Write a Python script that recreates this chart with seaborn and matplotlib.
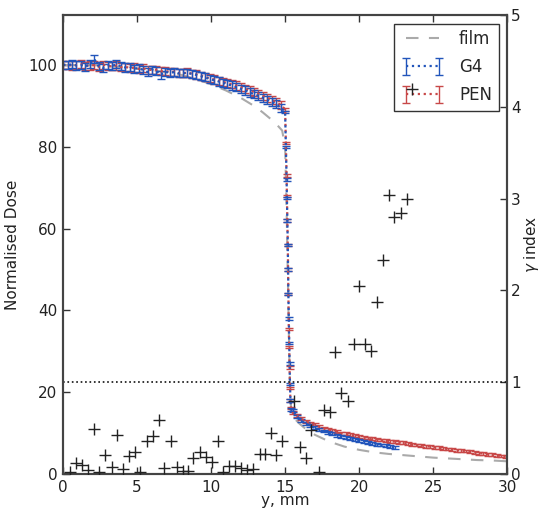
import numpy as np
import matplotlib
matplotlib.use('agg')
import matplotlib.pyplot as plt
import seaborn as sns

# film profile (grey dashed)
film_x = [0, 2, 4, 6, 8, 9, 10, 11, 12, 13, 13.5, 14, 14.5, 14.8, 15.0, 15.1, 15.2, 15.3, 15.4,
          15.5, 16, 16.5, 17, 18, 19, 20, 21, 22, 23, 24, 25, 26, 27, 28, 29, 30]
film_dose = [100, 100, 99.5, 98.8, 97.6, 96.6, 95.3, 93.8, 92.0, 89.8, 88.4, 86.9, 85.2, 84.0,
             80.0, 65.0, 45.0, 25.0, 16.0, 14.0, 12.2, 10.7, 9.6, 7.9, 6.7, 5.9, 5.3, 4.9, 4.6,
             4.3, 4.0, 3.8, 3.6, 3.4, 3.3, 3.1]

# simulated profiles, sampled every 0.3 mm on the plateau and tail
head_x = np.round(np.arange(0, 14.71, 0.3), 2)
drop_x = [15.0, 15.05, 15.1, 15.12, 15.15, 15.18, 15.2, 15.22, 15.25, 15.28, 15.3, 15.33, 15.36, 15.4]
pen_tail_x = np.round(np.arange(15.5, 29.91, 0.3), 2)
g4_tail_x = np.round(np.arange(15.5, 22.41, 0.3), 2)

g4_head = [100.1, 100.0, 100.2, 99.9, 100.0, 99.6, 100.3, 101.5, 99.7, 99.3,
           100.0, 99.8, 100.2, 99.7, 99.4, 99.6, 99.1, 99.3, 98.8, 98.3,
           98.9, 98.6, 97.6, 98.4, 98.1, 98.3, 98.0, 98.1, 98.0, 97.9,
           97.6, 97.3, 97.0, 96.6, 96.3, 96.0, 95.7, 95.3, 95.0, 94.6,
           94.2, 93.8, 93.3, 92.9, 92.5, 92.0, 91.5, 91.0, 90.4, 89.6]
pen_head = [100.0, 100.1, 99.9, 100.0, 100.2, 99.8, 99.9, 100.0, 99.6, 100.1,
            99.8, 99.7, 99.9, 99.5, 99.6, 99.3, 99.4, 99.1, 99.2, 98.9,
            98.8, 98.9, 98.5, 98.6, 98.3, 98.4, 98.1, 98.0, 98.2, 97.9,
            97.7, 97.4, 97.1, 96.8, 96.5, 96.2, 95.9, 95.6, 95.3, 95.0,
            94.6, 94.2, 93.8, 93.4, 93.0, 92.5, 92.0, 91.5, 90.9, 90.3]
g4_drop = [88.6, 80.0, 72.0, 67.5, 62.0, 56.0, 50.0, 44.0, 38.0, 32.0, 27.0, 22.0, 18.0, 15.8]
pen_drop = [89.2, 81.0, 73.0, 68.0, 62.0, 56.0, 50.0, 44.0, 35.4, 31.0, 26.0, 21.0, 18.0, 16.2]
g4_tail = [15.6, 14.0, 13.0, 12.3, 11.8, 11.3, 10.9, 10.5, 10.1, 9.8,
           9.5, 9.2, 8.9, 8.6, 8.4, 8.2, 8.0, 7.7, 7.5, 7.3,
           7.1, 6.9, 6.7, 6.5]
pen_tail = [15.0, 14.2, 13.5, 12.9, 12.4, 12.0, 11.6, 11.2, 10.9, 10.6,
            10.3, 10.0, 9.8, 9.6, 9.4, 9.2, 9.0, 8.8, 8.6, 8.5,
            8.3, 8.2, 8.0, 7.9, 7.7, 7.6, 7.4, 7.3, 7.1, 7.0,
            6.8, 6.7, 6.5, 6.4, 6.2, 6.1, 6.0, 5.8, 5.7, 5.6,
            5.4, 5.3, 5.1, 5.0, 4.8, 4.7, 4.5, 4.4, 4.3]
err_head, err_drop, err_tail = 1.0, 0.3, 0.35

# gamma index points
gamma_x = [0.47, 0.88, 1.28, 1.69, 2.09, 2.43, 2.84, 3.31, 3.67, 4.07, 4.44, 4.84, 5.2, 5.65,
           6.06, 6.46, 6.82, 7.3, 7.68, 8.09, 8.45, 8.8, 9.26, 9.66, 10.07, 10.43, 10.83,
           11.24, 11.64, 12.05, 12.45, 12.86, 13.27, 13.67, 14.03, 14.39, 14.8, 15.6, 16.0,
           16.4, 16.78, 17.3, 17.64, 18.04, 18.4, 18.78, 19.24, 19.66, 20.0, 20.4, 20.8,
           21.2, 21.64, 22.03, 22.39, 22.8, 23.24, 23.6]
gamma_val = [0.025, 0.12, 0.10, 0.04, 0.49, 0.02, 0.21, 0.08, 0.42, 0.05, 0.20, 0.24, 0.025, 0.36,
             0.41, 0.59, 0.065, 0.36, 0.08, 0.03, 0.03, 0.17, 0.24, 0.18, 0.13, 0.36, 0.025,
             0.09, 0.09, 0.07, 0.04, 0.05, 0.22, 0.22, 0.45, 0.21, 0.36, 0.79, 0.29,
             0.17, 0.48, 0.02, 0.70, 0.675, 1.33, 0.885, 0.79, 1.42, 2.05, 1.42, 1.34,
             1.87, 2.33, 3.04, 2.80, 2.84, 3.00, 4.2]

sns.set_style('white')
plt.rcParams['font.family'] = ['DejaVu Sans']
txt = '#222222'

fig = plt.figure(figsize=(5.4, 5.08), dpi=100)
ax = fig.add_axes([0.117, 0.067, 0.822, 0.903])

sns.lineplot(x=film_x, y=film_dose, ax=ax, color='#aaaaaa', linestyle='--', dashes=False,
             linewidth=1.5, estimator=None, sort=False, label='film')
ax.lines[-1].set_dashes((6, 5))

def profile(x_parts, y_parts, color, label):
    x = np.concatenate([np.asarray(p, float) for p in x_parts])
    y = np.concatenate([np.asarray(p, float) for p in y_parts])
    e = np.concatenate([np.full(len(x_parts[0]), err_head), np.full(len(x_parts[1]), err_drop),
                        np.full(len(x_parts[2]), err_tail)])
    return ax.errorbar(x, y, yerr=e, fmt=':', color=color, ecolor=color, lw=1.6,
                       elinewidth=1.0, capsize=3, capthick=1.0, label=label)

h_pen = profile([head_x, drop_x, pen_tail_x], [pen_head, pen_drop, pen_tail], '#c84848', 'PEN')
h_g4 = profile([head_x, drop_x, g4_tail_x], [g4_head, g4_drop, g4_tail], '#2255bb', 'G4')
h_film = ax.lines[0]

ax.set_xlim(0, 30)
ax.set_ylim(0, 112.2)
ax.set_xticks(range(0, 31, 5))
ax.set_yticks(range(0, 101, 20))
ax.set_xlabel('y, mm', fontsize=11, color=txt, labelpad=-1)
ax.set_ylabel('Normalised Dose', fontsize=11, color=txt, labelpad=6)
ax.tick_params(direction='in', length=5, width=1, labelsize=11, colors='#333333',
               labelcolor=txt, top=True, left=True, bottom=True, right=False, pad=4)

leg = ax.legend([h_film, h_g4, h_pen], ['film', 'G4', 'PEN'], loc='upper right', numpoints=2,
                fontsize=12, frameon=True, fancybox=False, handlelength=2.6,
                borderaxespad=0.5, labelspacing=0.6, handletextpad=0.9)
leg.get_frame().set_edgecolor('black')
leg.get_frame().set_linewidth(1.0)

ax2 = ax.twinx()
ax2.patch.set_visible(False)
sns.scatterplot(x=gamma_x, y=gamma_val, ax=ax2, marker='+', color='#222222', s=70,
                linewidth=1.0, zorder=5)
ax2.axhline(1, color='#111111', linestyle=':', lw=1.2)
ax2.set_ylim(0, 5)
ax2.set_yticks(range(0, 6))
ax2.set_ylabel(r'$\gamma$ index', fontsize=11, color=txt, labelpad=1)
ax2.tick_params(direction='in', length=5, width=1, labelsize=11, colors='#333333',
                labelcolor=txt, right=True, pad=3)

for a in (ax, ax2):
    for s in a.spines.values():
        s.set_color('#444444')
        s.set_linewidth(1.5)

fig.savefig('out.png', dpi=100)
